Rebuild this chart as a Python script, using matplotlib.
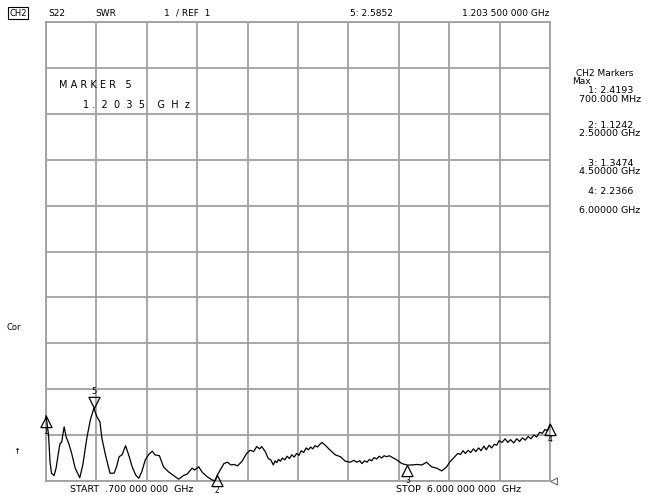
import numpy as np
import matplotlib.pyplot as plt

# S22 SWR trace (GHz, SWR)
freq_ghz = [0.700, 0.727, 0.742, 0.758, 0.785, 0.806, 0.833, 0.848, 0.864, 0.891,
            0.912, 0.939, 0.970, 1.007, 1.055, 1.087, 1.129, 1.166, 1.2035, 1.235,
            1.267, 1.288, 1.325, 1.373, 1.416, 1.442, 1.469, 1.500, 1.537, 1.575,
            1.606, 1.643, 1.675, 1.707, 1.744, 1.781, 1.818, 1.845, 1.893, 1.935,
            1.988, 2.041, 2.094, 2.147, 2.184, 2.237, 2.264, 2.306, 2.343, 2.396,
            2.449, 2.481, 2.500, 2.518, 2.571, 2.608, 2.645, 2.677, 2.714, 2.762,
            2.809, 2.847, 2.884, 2.915, 2.947, 2.968, 3.006, 3.037, 3.064, 3.090,
            3.110, 3.127, 3.145, 3.165, 3.185, 3.212, 3.235, 3.260, 3.285, 3.310,
            3.335, 3.360, 3.385, 3.410, 3.435, 3.460, 3.483, 3.505, 3.530, 3.555,
            3.580, 3.604, 3.636, 3.689, 3.742, 3.795, 3.848, 3.901, 3.935, 3.970,
            4.000, 4.023, 4.050, 4.076, 4.100, 4.124, 4.150, 4.177, 4.205, 4.230,
            4.255, 4.283, 4.310, 4.336, 4.389, 4.442, 4.500, 4.548, 4.601, 4.654,
            4.702, 4.754, 4.808, 4.861, 4.914, 4.945, 4.998, 5.030, 5.060, 5.085,
            5.110, 5.140, 5.165, 5.195, 5.220, 5.250, 5.275, 5.305, 5.330, 5.360,
            5.385, 5.415, 5.440, 5.465, 5.495, 5.528, 5.555, 5.585, 5.618, 5.650,
            5.680, 5.710, 5.740, 5.770, 5.800, 5.830, 5.860, 5.890, 5.920, 5.947,
            5.975, 6.000]
swr = [2.419, 2.00, 1.42, 1.17, 1.12, 1.28, 1.64, 1.82, 1.84, 2.18,
       1.96, 1.82, 1.60, 1.28, 1.07, 1.35, 1.93, 2.33, 2.585, 2.40,
       2.29, 1.93, 1.57, 1.17, 1.17, 1.31, 1.53, 1.57, 1.77, 1.53,
       1.31, 1.13, 1.06, 1.20, 1.46, 1.58, 1.65, 1.57, 1.55, 1.31,
       1.20, 1.12, 1.04, 1.12, 1.15, 1.28, 1.24, 1.31, 1.19, 1.09,
       1.02, 1.01, 1.124, 1.19, 1.38, 1.41, 1.35, 1.36, 1.33, 1.43,
       1.60, 1.67, 1.64, 1.75, 1.70, 1.75, 1.64, 1.49, 1.46, 1.35,
       1.44, 1.40, 1.47, 1.43, 1.50, 1.46, 1.54, 1.49, 1.57, 1.52,
       1.60, 1.56, 1.66, 1.62, 1.72, 1.68, 1.74, 1.70, 1.77, 1.74,
       1.80, 1.84, 1.78, 1.67, 1.57, 1.53, 1.43, 1.41, 1.45, 1.41,
       1.44, 1.38, 1.44, 1.41, 1.47, 1.44, 1.51, 1.48, 1.54, 1.50,
       1.55, 1.53, 1.55, 1.52, 1.46, 1.38, 1.347, 1.35, 1.36, 1.35,
       1.41, 1.31, 1.28, 1.22, 1.31, 1.41, 1.53, 1.60, 1.58, 1.66,
       1.60, 1.67, 1.62, 1.70, 1.64, 1.72, 1.66, 1.76, 1.68, 1.78,
       1.72, 1.80, 1.78, 1.88, 1.84, 1.92, 1.84, 1.90, 1.83, 1.92,
       1.86, 1.94, 1.89, 1.97, 1.92, 2.00, 1.96, 2.06, 2.04, 2.12,
       2.10, 2.2366]

marker_ids = ['1', '2', '3', '4', '5']
marker_freq = [0.7, 2.5, 4.5, 6.0, 1.2035]
marker_swr = [2.4193, 1.1242, 1.3474, 2.2366, 2.5852]
marker_freq_txt = ['700.000 MHz', '2.50000 GHz', '4.50000 GHz', '6.00000 GHz']

W, H = 650, 495
def fx(x): return x / W
def fy(y): return 1 - y / H

fig = plt.figure(figsize=(W / 100, H / 100), dpi=100)
ax = fig.add_axes([fx(46), fy(481), 504 / W, 459 / H])
ax.set_xlim(0.7, 6.0)
ax.set_ylim(1, 11)
ax.set_xticks(np.linspace(0.7, 6.0, 11))
ax.set_yticks(np.arange(1, 12))
ax.tick_params(length=0, labelbottom=False, labelleft=False)
ax.grid(color='#a0a0a0', lw=1.3)
for s in ax.spines.values():
    s.set_color('#a0a0a0')
    s.set_linewidth(1.3)

ax.plot(freq_ghz, swr, color='black', lw=0.9, clip_on=False, zorder=3)

# marker symbols: open triangles with apex on the trace
up = [(0, 0), (-0.5, -1), (0.5, -1), (0, 0)]
down = [(0, 0), (-0.5, 1), (0.5, 1), (0, 0)]
for mid, f, s in zip(marker_ids, marker_freq, marker_swr):
    if mid == '5':
        ax.plot([f], [s], marker=down, ms=16, mfc='none', mec='black', mew=0.9,
                clip_on=False, zorder=4)
        ax.annotate(mid, (f, s), xytext=(0, 12), textcoords='offset pixels',
                    ha='center', va='bottom', fontsize=6)
    else:
        ax.plot([f], [s], marker=up, ms=16, mfc='none', mec='black', mew=0.9,
                clip_on=False, zorder=4)
        ax.annotate(mid, (f, s), xytext=(0, -11), textcoords='offset pixels',
                    ha='center', va='top', fontsize=5.5, annotation_clip=False)

# reference position indicator
ax.plot([6.0], [1.0], marker=[(0, 0), (1, 0.5), (1, -0.5), (0, 0)], ms=10,
        mfc='none', mec='#707070', mew=0.8, clip_on=False)

# header line
fig.text(fx(9), fy(13), 'CH2', fontsize=6, va='center',
         bbox=dict(boxstyle='square,pad=0.15', fc='white', ec='black', lw=0.8))
fig.text(fx(48), fy(13), 'S22', fontsize=6.5, va='center')
fig.text(fx(95), fy(13), 'SWR', fontsize=6.5, va='center')
fig.text(fx(164), fy(13), '1', fontsize=6.5, va='center')
fig.text(fx(176), fy(13), '/ REF  1', fontsize=6.5, va='center')
fig.text(fx(350), fy(13), '5: 2.5852', fontsize=6.5, va='center')
fig.text(fx(549), fy(13), '1.203 500 000 GHz', fontsize=6.5, va='center', ha='right')

# active marker readout
fig.text(fx(59), fy(85), 'M A R K E R   5', fontsize=7, va='center')
fig.text(fx(83), fy(105), '1 .  2  0  3  5    G  H  z', fontsize=7, va='center')

# marker table
fig.text(fx(576), fy(73), 'CH2 Markers', fontsize=6.5, va='center')
fig.text(fx(572), fy(82), 'Max', fontsize=6.5, va='center')
rows_y = [(90, 99), (126, 134), (164, 172), (191, 210)]
for mid, s, ftxt, (y1, y2) in zip(marker_ids, marker_swr, marker_freq_txt, rows_y):
    fig.text(fx(611), fy(y1), f'{mid}: {s:.4f}', fontsize=6.8, va='center', ha='center')
    fig.text(fx(610), fy(y2), ftxt, fontsize=6.8, va='center', ha='center')

# status annotations on the left
fig.text(fx(6), fy(327), 'Cor', fontsize=6, va='center')
fig.text(fx(13), fy(451), '↑', fontsize=6, va='center')

# sweep limits
fig.text(fx(70), fy(489), 'START  .700 000 000  GHz', fontsize=6.8, va='center')
fig.text(fx(396), fy(490), 'STOP  6.000 000 000  GHz', fontsize=6.8, va='center')

fig.savefig('out.png', dpi=100)
